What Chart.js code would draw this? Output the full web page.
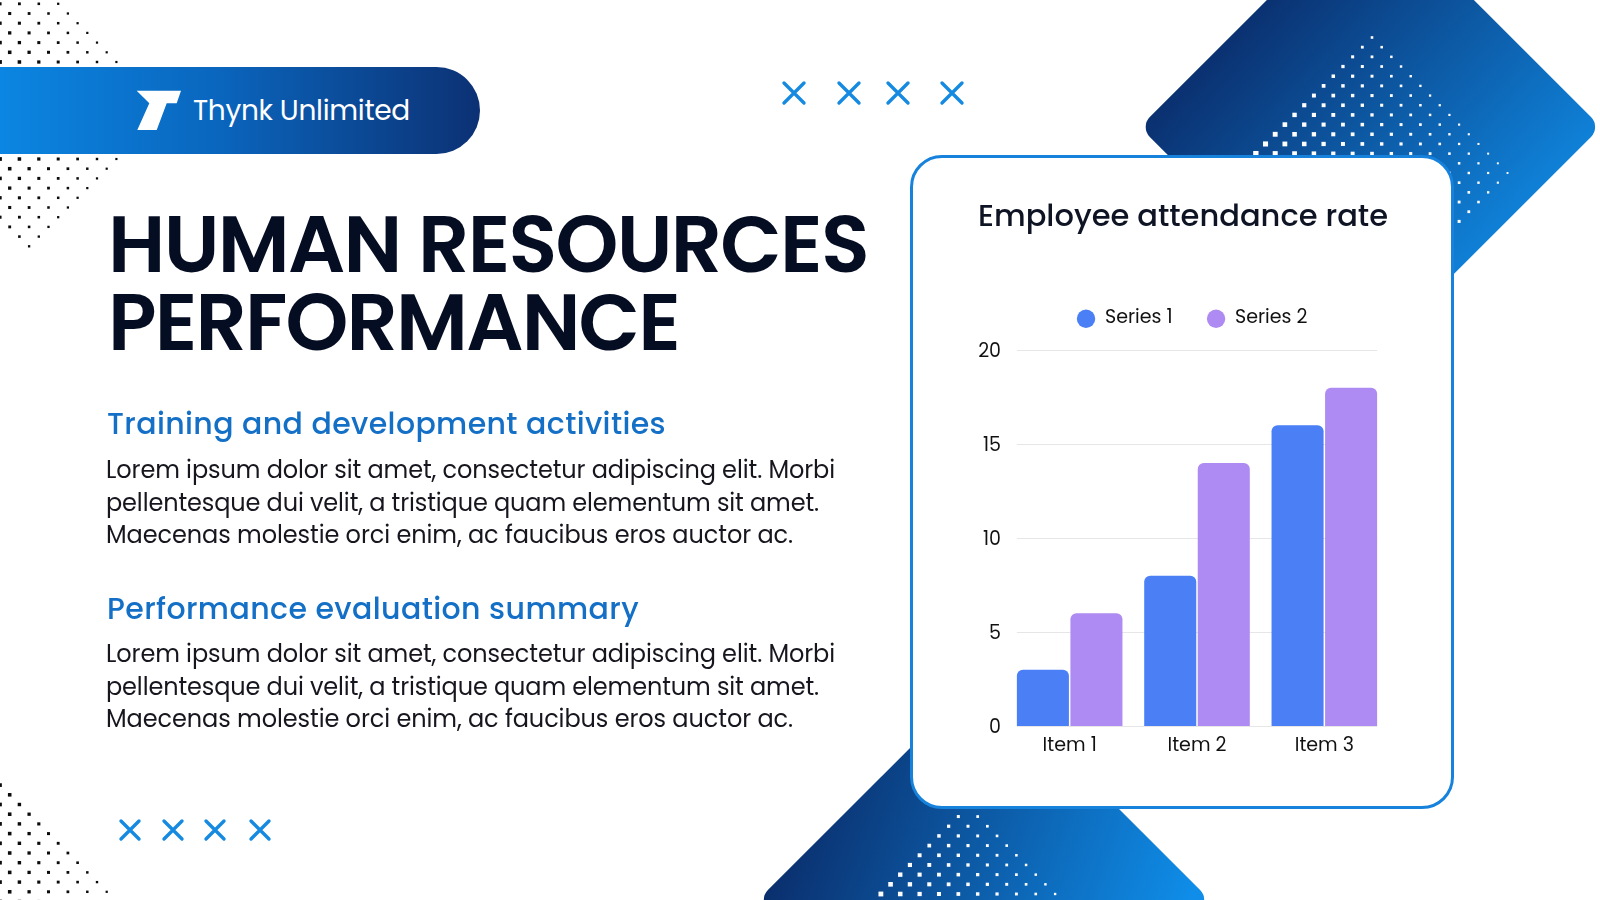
<!DOCTYPE html>
<html><head><meta charset="utf-8">
<script src="https://cdn.jsdelivr.net/npm/chart.js@4.4.1/dist/chart.umd.min.js"></script>
<style>
html,body{margin:0;padding:0;width:1600px;height:900px;overflow:hidden;background:#fff;font-family:"Poppins","Inter",sans-serif;}
#bg{position:absolute;left:0;top:0;}
.t{position:absolute;white-space:nowrap;line-height:1;}
#bar{position:absolute;left:0;top:67px;width:480px;height:87px;border-radius:0 44px 44px 0;background:linear-gradient(90deg,#0b86e2 0%,#0a66be 45%,#0c3174 100%);}
#logo{position:absolute;left:0;top:0;}
#card{position:absolute;left:910px;top:155px;width:544px;height:654px;box-sizing:border-box;border:3px solid #1682dc;border-radius:32px;background:#fff;}
#chartwrap{position:absolute;left:911px;top:156px;width:543px;height:653px;}
.h1{font-size:80px;font-weight:600;color:#050d22;}
.h2{font-size:30px;font-weight:500;color:#1470c6;}
.p{font-size:24px;font-weight:400;color:#16161e;}
</style></head><body>
<canvas id="bg" width="1600" height="900"></canvas>
<div id="bar"></div>
<svg id="logo" width="480" height="160"><polygon points="136.7,90.7 181,90.7 176.7,103.3 166.7,103.3 156.7,130 137.3,130 149.3,103.3" fill="#fff"/></svg>
<div class="t" data-w="217" style="left:193px;top:97px;font-size:28px;color:#fff;">Thynk Unlimited</div>
<div class="t h1" data-w="760" style="left:108px;top:204px;">HUMAN RESOURCES</div>
<div class="t h1" data-w="571" style="left:108px;top:282px;">PERFORMANCE</div>
<div class="t h2" data-w="559" style="left:107px;top:409px;">Training and development activities</div>
<div class="t p" data-w="729" style="left:106px;top:458px;">Lorem ipsum dolor sit amet, consectetur adipiscing elit. Morbi</div>
<div class="t p" data-w="713" style="left:106px;top:491px;">pellentesque dui velit, a tristique quam elementum sit amet.</div>
<div class="t p" data-w="687" style="left:106px;top:523px;">Maecenas molestie orci enim, ac faucibus eros auctor ac.</div>
<div class="t h2" data-w="532" style="left:107px;top:594px;">Performance evaluation summary</div>
<div class="t p" data-w="729" style="left:106px;top:642px;">Lorem ipsum dolor sit amet, consectetur adipiscing elit. Morbi</div>
<div class="t p" data-w="713" style="left:106px;top:675px;">pellentesque dui velit, a tristique quam elementum sit amet.</div>
<div class="t p" data-w="687" style="left:106px;top:707px;">Maecenas molestie orci enim, ac faucibus eros auctor ac.</div>
<div id="card"></div>
<div id="chartwrap"><canvas id="chart"></canvas></div>
<script>
// ---- chart data ----
const categories = ['Item 1', 'Item 2', 'Item 3'];
const seriesNames = ['Series 1', 'Series 2'];
const series1 = [3, 8, 16];
const series2 = [6, 14, 18];
const yMin = 0, yMax = 20, yStep = 5;
const chartTitle = 'Employee attendance rate';

// ---- text fitting ----
document.querySelectorAll('.t[data-w]').forEach(el => {
  const target = +el.dataset.w;
  const n = el.textContent.length;
  const w = el.getBoundingClientRect().width;
  el.style.letterSpacing = ((target - w) / n) + 'px';
});

// ---- background decoration ----
const g = document.getElementById('bg').getContext('2d');
function roundedPoly(ctx, pts, r) {
  const n = pts.length;
  ctx.beginPath();
  for (let i = 0; i < n; i++) {
    const p0 = pts[(i - 1 + n) % n], p1 = pts[i], p2 = pts[(i + 1) % n];
    if (i === 0) ctx.moveTo((p0[0] + p1[0]) / 2, (p0[1] + p1[1]) / 2);
    ctx.arcTo(p1[0], p1[1], (p1[0] + p2[0]) / 2, (p1[1] + p2[1]) / 2, r);
  }
  ctx.closePath();
}
function diamond(cx, cy, h, x0, y0, x1, y1, c0, c1) {
  const gr = g.createLinearGradient(x0, y0, x1, y1);
  gr.addColorStop(0, c0); gr.addColorStop(1, c1);
  g.fillStyle = gr;
  roundedPoly(g, [[cx, cy - h], [cx + h, cy], [cx, cy + h], [cx - h, cy]], 14);
  g.fill();
}
function lattice(cx, cy, h, sp, parity, color, sizeFn) {
  g.fillStyle = color;
  const n = Math.ceil(h / sp) + 1;
  for (let j = -n; j <= n; j++) {
    for (let i = -n; i <= n; i++) {
      if (((i + j) % 2 + 2) % 2 !== parity) continue;
      const x = cx + i * sp, y = cy + j * sp;
      if (Math.abs(x - cx) + Math.abs(y - cy) > h + 0.5) continue;
      if (x < -3 || y < -3 || x > 1603 || y > 903) continue;
      const s = Math.max(1.4, Math.min(6, sizeFn(x, y)));
      g.fillRect(x - s / 2, y - s / 2, s, s);
    }
  }
}
diamond(1370.4, 127, 230.5, 1220, 10, 1530, 300, '#0a2b69', '#1091ec');
diamond(984, 900, 226, 790, 760, 1190, 900, '#0a2a67', '#0f8de8');
lattice(1372, 173, 136, 9.68, 0, '#ffffff', (x, y) => 2.6 + 0.0142 * (1372 - x) + 0.0091 * (y - 38));
lattice(968, 942.4, 135.5, 9.68, 0, '#ffffff', (x, y) => 2.8 + 0.0142 * (968 - x) + 0.0091 * (y - 807));
lattice(29.1, 110.5, 136.3, 9.7, 0, '#0b0b0b', (x, y) => 3.9 - 0.014 * x - 0.012 * Math.max(0, Math.abs(y - 110.5) - 40));
lattice(0, 950, 166, 9.7, 1, '#0b0b0b', (x) => 3.7 - 0.014 * x);
function xmark(cx, cy, r) {
  g.strokeStyle = '#168ae0'; g.lineWidth = 3.4; g.lineCap = 'round';
  g.beginPath();
  g.moveTo(cx - r, cy - r); g.lineTo(cx + r, cy + r);
  g.moveTo(cx + r, cy - r); g.lineTo(cx - r, cy + r);
  g.stroke();
}
[794, 849, 898, 952].forEach(x => xmark(x, 93, 10));
[130, 173, 215, 260].forEach(x => xmark(x, 830, 9));

// ---- chart ----
const FONT = 'Poppins, Inter, sans-serif';
const YW = 28, XH = 40;
const legendSpacer = {
  id: 'legendSpacer',
  beforeInit(chart) {
    const orig = chart.legend.fit;
    chart.legend.fit = function () { orig.call(this); this.height += 12; };
  },
  afterLayout(chart) {
    chart.legend.left += 9; chart.legend.right += 9;
  }
};
const barGrid = {
  id: 'barGrid',
  beforeDatasetsDraw(chart) {
    const y = chart.scales.y, ctx = chart.ctx;
    const first = chart.getDatasetMeta(0).data[0];
    const lastMeta = chart.getDatasetMeta(chart.data.datasets.length - 1).data;
    const last = lastMeta[lastMeta.length - 1];
    const l = first.x - first.width / 2, r = last.x + last.width / 2;
    ctx.save();
    ctx.strokeStyle = '#e6e6e6'; ctx.lineWidth = 1;
    y.ticks.forEach(t => {
      const py = Math.round(y.getPixelForValue(t.value)) + 0.5;
      ctx.beginPath(); ctx.moveTo(l, py); ctx.lineTo(r, py); ctx.stroke();
    });
    ctx.restore();
  }
};
new Chart(document.getElementById('chart'), {
  type: 'bar',
  data: {
    labels: categories,
    datasets: [
      { label: seriesNames[0], data: series1, backgroundColor: '#4a7ff5', borderRadius: 6, borderSkipped: 'bottom', categoryPercentage: 0.841, barPercentage: 0.972 },
      { label: seriesNames[1], data: series2, backgroundColor: '#ae8bf2', borderRadius: 6, borderSkipped: 'bottom', categoryPercentage: 0.841, barPercentage: 0.972 }
    ]
  },
  options: {
    responsive: true, maintainAspectRatio: false, animation: false,
    layout: { padding: { left: 95 - YW, right: 66, top: 0, bottom: 83 - XH } },
    plugins: {
      title: { display: true, text: chartTitle, color: '#0e1424', font: { family: FONT, size: 31, weight: '500' }, padding: { top: 44, bottom: 38 } },
      legend: { position: 'top', align: 'center', labels: { usePointStyle: true, pointStyle: 'circle', boxWidth: 19, boxHeight: 13, padding: 34, color: '#111', font: { family: FONT, size: 19 } } },
      tooltip: { enabled: false }
    },
    scales: {
      x: { grid: { display: false }, border: { display: false }, ticks: { color: '#111', font: { family: FONT, size: 19 }, padding: 1 }, afterFit(s) { s.height = XH; } },
      y: { min: yMin, max: yMax, ticks: { stepSize: yStep, color: '#111', font: { family: FONT, size: 19 }, padding: 5, labelOffset: 2.5 }, grid: { display: false, drawTicks: false }, border: { display: false }, afterFit(s) { s.width = YW; } }
    }
  },
  plugins: [legendSpacer, barGrid]
});
</script>
</body></html>
